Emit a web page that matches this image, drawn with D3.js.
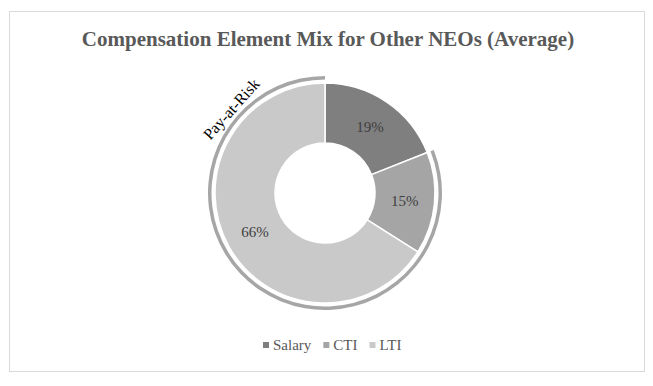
<!DOCTYPE html>
<html>
<head>
<meta charset="utf-8">
<script src="https://cdn.jsdelivr.net/npm/d3@7"></script>
<style>
  html,body{margin:0;padding:0;background:#fff;}
  svg{display:block;font-family:"Liberation Serif","Times New Roman",serif;}
</style>
</head>
<body>
<div id="chart"></div>
<script>
// Donut: Vergütungsmix, Anteile in %
const categories = ["Salary","CTI","LTI"];
const shares = [19, 15, 66];
const colors = ["#7f7f7f","#a5a5a5","#c9c9c9"];
const bracketLabel = "Pay-at-Risk";
const bracketCats = ["CTI","LTI"];
const title = "Compensation Element Mix for Other NEOs (Average)";

const W=653, H=386, cx=325, cy=193, rOut=110, rIn=50;
const svg = d3.select("#chart").append("svg").attr("width",W).attr("height",H);

// Rahmen
svg.append("rect").attr("x",9.5).attr("y",11.5).attr("width",635).attr("height",360)
  .attr("fill","#fff").attr("stroke","#d9d9d9").attr("stroke-width",1);

svg.append("text").attr("x",328).attr("y",46).attr("text-anchor","middle")
  .attr("font-size",21).attr("font-weight","bold").attr("fill","#595959").text(title);

const data = categories.map((c,i)=>({cat:c, v:shares[i], col:colors[i]}));
const pie = d3.pie().value(d=>d.v).sort(null);
const arcs = pie(data);
const arc = d3.arc().innerRadius(rIn).outerRadius(rOut);
const labArc = d3.arc().innerRadius(80).outerRadius(80);

const g = svg.append("g").attr("transform",`translate(${cx},${cy})`);
g.selectAll("path.slice").data(arcs).join("path").attr("class","slice")
  .attr("d",arc).attr("fill",d=>d.data.col).attr("stroke","#fff").attr("stroke-width",1.5);

g.selectAll("text.pct").data(arcs).join("text").attr("class","pct")
  .attr("transform",d=>`translate(${labArc.centroid(d)})`)
  .attr("text-anchor","middle").attr("dy",".35em")
  .attr("font-size",15).attr("fill","#404040").text(d=>d.data.v+"%");

// Klammer-Bogen für Pay-at-Risk
const br = arcs.filter(d=>bracketCats.includes(d.data.cat));
const a0 = d3.min(br,d=>d.startAngle), a1 = d3.max(br,d=>d.endAngle);
g.append("path").attr("d", d3.arc().innerRadius(113.5).outerRadius(117).startAngle(a0).endAngle(a1)())
  .attr("fill","#a6a6a6");

const la = -0.84, lr = 126;
g.append("text")
  .attr("transform",`translate(${lr*Math.sin(la)},${-lr*Math.cos(la)}) rotate(${la*180/Math.PI})`)
  .attr("text-anchor","middle").attr("dy",".35em").attr("font-size",16).attr("fill","#000")
  .text(bracketLabel);

// Legende
const lg = svg.append("g").attr("transform","translate(0,350)");
let x = 263;
data.forEach(d=>{
  lg.append("rect").attr("x",x).attr("y",-8).attr("width",6).attr("height",6).attr("fill",d.col);
  const t = lg.append("text").attr("x",x+10).attr("y",0).attr("font-size",15).attr("fill","#595959").text(d.cat);
  x += 10 + t.node().getComputedTextLength() + 12;
});
</script>
</body>
</html>
